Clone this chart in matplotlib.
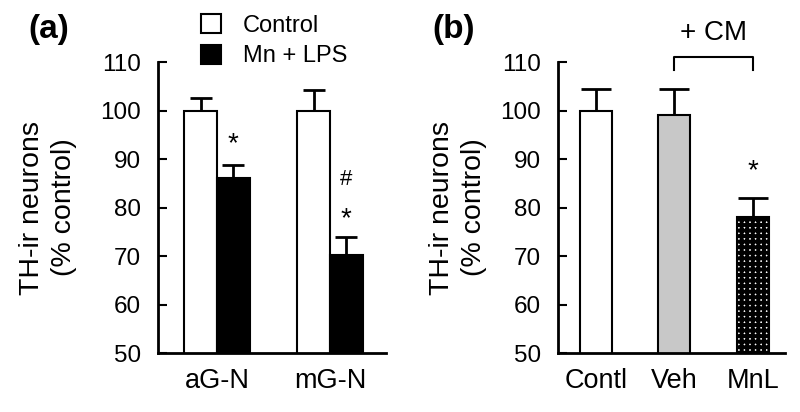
import matplotlib
matplotlib.use('Agg')
import matplotlib.pyplot as plt
from matplotlib.patches import Patch
import numpy as np

plt.rcParams['font.family'] = ['Liberation Sans', 'DejaVu Sans']
plt.rcParams['hatch.linewidth'] = 2.8

# panel (a)
groups_a = ['aG-N', 'mG-N']
control_a = [100, 100]
control_err_a = [2.6, 4.2]
mnlps_a = [86.0, 70.2]
mnlps_err_a = [2.8, 3.7]

# panel (b)
groups_b = ['Contl', 'Veh', 'MnL']
values_b = [100, 99.1, 78.1]
err_b = [4.4, 5.3, 3.9]

yticks = [50, 60, 70, 80, 90, 100, 110]

fig = plt.figure(figsize=(8, 4.12), dpi=100)
ax1 = fig.add_axes([0.1975, 0.143, 0.285, 0.7065])
ax2 = fig.add_axes([0.6975, 0.143, 0.2835, 0.7065])

def style_axis(ax):
    ax.spines['top'].set_visible(False)
    ax.spines['right'].set_visible(False)
    ax.spines['left'].set_linewidth(2)
    ax.spines['bottom'].set_linewidth(2)
    ax.set_ylim(50, 110)
    ax.set_yticks(yticks)
    ax.tick_params(axis='y', direction='in', length=6.5, width=1.5, pad=12, labelsize=17.5)
    ax.tick_params(axis='x', length=0, pad=11, labelsize=19.5)

# ---- (a)
w = 0.29
xa = np.arange(len(groups_a))
ax1.bar(xa - w/2, control_a, w, color='white', edgecolor='black', linewidth=1.5, zorder=2)
ax1.bar(xa + w/2, mnlps_a, w, color='black', edgecolor='black', linewidth=1.5, zorder=2)
ax1.errorbar(xa - w/2, control_a, yerr=[np.zeros(2), control_err_a], fmt='none',
             ecolor='black', elinewidth=2, capsize=8, capthick=2, zorder=1)
ax1.errorbar(xa + w/2, mnlps_a, yerr=[np.zeros(2), mnlps_err_a], fmt='none',
             ecolor='black', elinewidth=2, capsize=8, capthick=2, zorder=1)
ax1.set_xlim(-0.522, 1.496)
ax1.set_xticks(xa)
ax1.set_xticklabels(groups_a)
style_axis(ax1)
ax1.text(0 + w/2, 91.6, '*', ha='center', va='baseline', fontsize=20)
ax1.text(1 + w/2, 76.1, '*', ha='center', va='baseline', fontsize=20)
ax1.text(1 + w/2, 84.6, '#', ha='center', va='baseline', fontsize=16)
ax1.set_ylabel('TH-ir neurons\n(% control)', fontsize=20.5, linespacing=1.3)
ax1.yaxis.set_label_coords(-0.355, 0.5)

handles = [Patch(facecolor='white', edgecolor='black', linewidth=1.5, label='Control'),
           Patch(facecolor='black', edgecolor='black', linewidth=1.5, label='Mn + LPS')]
ax1.legend(handles=handles, loc='upper left', bbox_to_anchor=(0.19, 1.165), frameon=False,
           fontsize=17, handlelength=0.85, handleheight=0.85, handletextpad=0.9,
           labelspacing=0.35, borderpad=0, borderaxespad=0)

# ---- (b)
wb = 0.41
xb = np.arange(len(groups_b))
ax2.bar(xb[0], values_b[0], wb, color='white', edgecolor='black', linewidth=1.5, zorder=2)
ax2.bar(xb[1], values_b[1], wb, color='#c8c8c8', edgecolor='black', linewidth=1.5, zorder=2)
ax2.bar(xb[2], values_b[2], wb, color='white', edgecolor='black', linewidth=1.5,
        hatch='+++', zorder=2)
ax2.errorbar(xb, values_b, yerr=[np.zeros(3), err_b], fmt='none', ecolor='black',
             elinewidth=2, capsize=11, capthick=2, zorder=1)
ax2.set_xlim(-0.484, 2.41)
ax2.set_xticks(xb)
ax2.set_xticklabels(groups_b)
style_axis(ax2)
ax2.text(2, 86.0, '*', ha='center', va='baseline', fontsize=20)
ax2.plot([1, 1, 2, 2], [108.4, 111.0, 111.0, 108.4], color='black', linewidth=1.5,
         clip_on=False)
ax2.text(1.5, 114.5, '+ CM', ha='center', va='baseline', fontsize=20)
ax2.set_ylabel('TH-ir neurons\n(% control)', fontsize=20.5, linespacing=1.3)
ax2.yaxis.set_label_coords(-0.315, 0.5)

fig.text(0.036, 0.928, '(a)', fontsize=24, fontweight='bold', ha='left', va='center')
fig.text(0.540, 0.928, '(b)', fontsize=24, fontweight='bold', ha='left', va='center')

fig.savefig('out.png', dpi=100)
